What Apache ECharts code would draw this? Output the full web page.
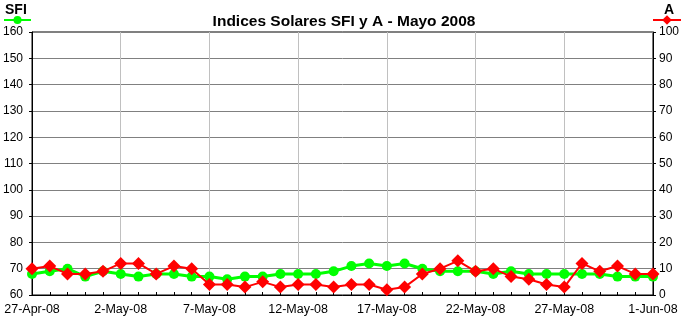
<!DOCTYPE html>
<html><head><meta charset="utf-8">
<script src="https://cdn.jsdelivr.net/npm/echarts@6/dist/echarts.min.js"></script>
<style>html,body{margin:0;padding:0;background:#fff}#c{width:682px;height:322px}</style>
</head><body><div id="c"></div>
<script>
const categories = ['27-Apr-08','28-Apr-08','29-Apr-08','30-Apr-08','1-May-08','2-May-08','3-May-08','4-May-08','5-May-08','6-May-08',
 '7-May-08','8-May-08','9-May-08','10-May-08','11-May-08','12-May-08','13-May-08','14-May-08','15-May-08','16-May-08',
 '17-May-08','18-May-08','19-May-08','20-May-08','21-May-08','22-May-08','23-May-08','24-May-08','25-May-08','26-May-08',
 '27-May-08','28-May-08','29-May-08','30-May-08','31-May-08','1-Jun-08'];
const sfi = [68,69,70,67,69,68,67,68,68,67, 67,66,67,67,68,68,68,69,71,72, 71,72,70,69,69,69,68,69,68,68, 68,68,68,67,67,67];
const aIndex = [10,11,8,8,9,12,12,8,11,10, 4,4,3,5,3,4,4,3,4,4, 2,3,8,10,13,9,10,7,6,4, 3,12,9,11,8,8];
const sfiTicks = [60,160,10];
const aTicks = [0,100,10];
const font = 'Liberation Sans, Arial, sans-serif';

const chart = echarts.init(document.getElementById('c'));
chart.setOption({
  animation:false,
  title:{text:'Indices Solares SFI y A - Mayo 2008',left:339,top:9,textAlign:'center',
    textStyle:{fontFamily:font,fontSize:15.5,fontWeight:'bold',color:'#000'}},
  graphic:[
    {type:'text',left:5,top:3,style:{text:'SFI',font:'bold 14px '+font,fill:'#000'}},
    {type:'text',left:664,top:3,style:{text:'A',font:'bold 14px '+font,fill:'#000'}}
  ],
  legend:[
    {data:['SFI'],left:3,top:15,padding:0,itemWidth:27,itemHeight:10,formatter:()=>'',textStyle:{fontSize:1}},
    {data:['A'],left:652,top:14,padding:0,itemWidth:28,itemHeight:12,formatter:()=>'',textStyle:{fontSize:1}}
  ],
  grid:{left:32,right:26,top:32,bottom:27,show:true,borderColor:'#000',borderWidth:1},
  xAxis:{type:'category',data:categories,boundaryGap:false,
    axisLine:{lineStyle:{color:'#000'}},
    axisTick:{interval:0,inside:true,length:3,lineStyle:{color:'#000'}},
    axisLabel:{interval:4,color:'#000',fontFamily:font,fontSize:12.5,margin:8,showMaxLabel:true},
    splitLine:{show:true,interval:4,lineStyle:{color:'#c0c0c0',width:1}}},
  yAxis:[
    {type:'value',min:sfiTicks[0],max:sfiTicks[1],interval:sfiTicks[2],
     axisLine:{show:true,lineStyle:{color:'#000'}},
     axisTick:{show:true,length:3,lineStyle:{color:'#000'}},
     axisLabel:{color:'#000',fontFamily:font,fontSize:12,margin:9},
     splitLine:{show:true,lineStyle:{color:'#808080',width:1}}},
    {type:'value',min:aTicks[0],max:aTicks[1],interval:aTicks[2],position:'right',
     axisLine:{show:true,lineStyle:{color:'#000'}},
     axisTick:{show:true,length:3,lineStyle:{color:'#000'}},
     axisLabel:{color:'#000',fontFamily:font,fontSize:12,margin:6},
     splitLine:{show:false}}
  ],
  series:[
    {name:'SFI',type:'line',data:sfi,yAxisIndex:0,symbol:'circle',symbolSize:10,showAllSymbol:true,
     lineStyle:{color:'#00ff00',width:3},itemStyle:{color:'#00ff00'},z:2},
    {name:'A',type:'line',data:aIndex,yAxisIndex:1,symbol:'diamond',symbolSize:13,showAllSymbol:true,
     lineStyle:{color:'#ff0000',width:2},itemStyle:{color:'#ff0000'},z:3}
  ]
});
</script></body></html>
